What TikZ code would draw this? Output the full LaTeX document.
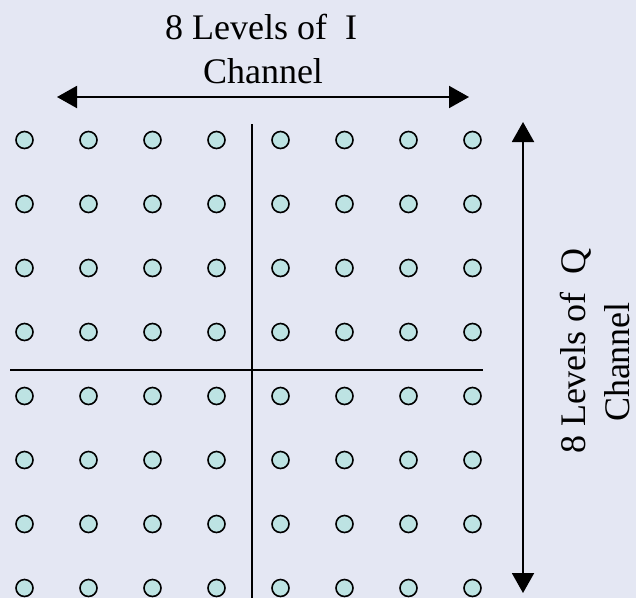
\documentclass[tikz,border=0pt]{standalone}
\usepackage{fontspec}
\setmainfont{Liberation Serif}
\newfontfamily\timesfont{Liberation Serif}
\usetikzlibrary{arrows.meta}
\definecolor{bgcol}{RGB}{228,231,243}
\definecolor{dotfill}{RGB}{189,227,227}
\tikzset{
  dot/.style={circle, draw=black, fill=dotfill, line width=1.6pt, minimum size=17pt, inner sep=0pt},
  axisline/.style={draw=black, line width=2pt},
  dimarrow/.style={draw=black, line width=2pt, {Triangle[length=20pt,width=22pt]}-{Triangle[length=20pt,width=22pt]}},
  lbl/.style={font=\timesfont\fontsize{36}{40}\selectfont, inner sep=0pt, anchor=base}
}
\begin{document}
\begin{tikzpicture}[x=1pt,y=-1pt]
\fill[bgcol] (0,0) rectangle (636,598);
\useasboundingbox (0,0) rectangle (636,598);
\begin{scope}
\clip (0,0) rectangle (636,598);
% axes
\coordinate (vtop) at (251.5,124);
\coordinate (vbot) at (251.5,598);
\coordinate (hleft) at (10,369.5);
\coordinate (hright) at (483,369.5);
\draw[axisline] (vtop) -- (vbot);
\draw[axisline] (hleft) -- (hright);
% constellation points
\foreach \i in {0,...,7}{
  \foreach \j in {0,...,7}{
    \node[dot] (c-\i-\j) at ({24.5+64*\i},{140+64*\j}) {};
  }
}
\end{scope}
% dimension arrows
\coordinate (ileft) at (57,97);
\coordinate (iright) at (469,97);
\coordinate (qtop) at (523,122);
\coordinate (qbot) at (523,593);
\draw[dimarrow] (ileft) -- (iright);
\draw[dimarrow] (qtop) -- (qbot);
% labels
\node[lbl] (ilabel1) at (261,39) {8 Levels of \ I};
\node[lbl] (ilabel2) at (263,83) {Channel};
\node[lbl, rotate=90] (qlabel1) at (585,351) {8 Levels of \ Q};
\node[lbl, rotate=90] (qlabel2) at (629,362) {Channel};
\end{tikzpicture}
\end{document}
